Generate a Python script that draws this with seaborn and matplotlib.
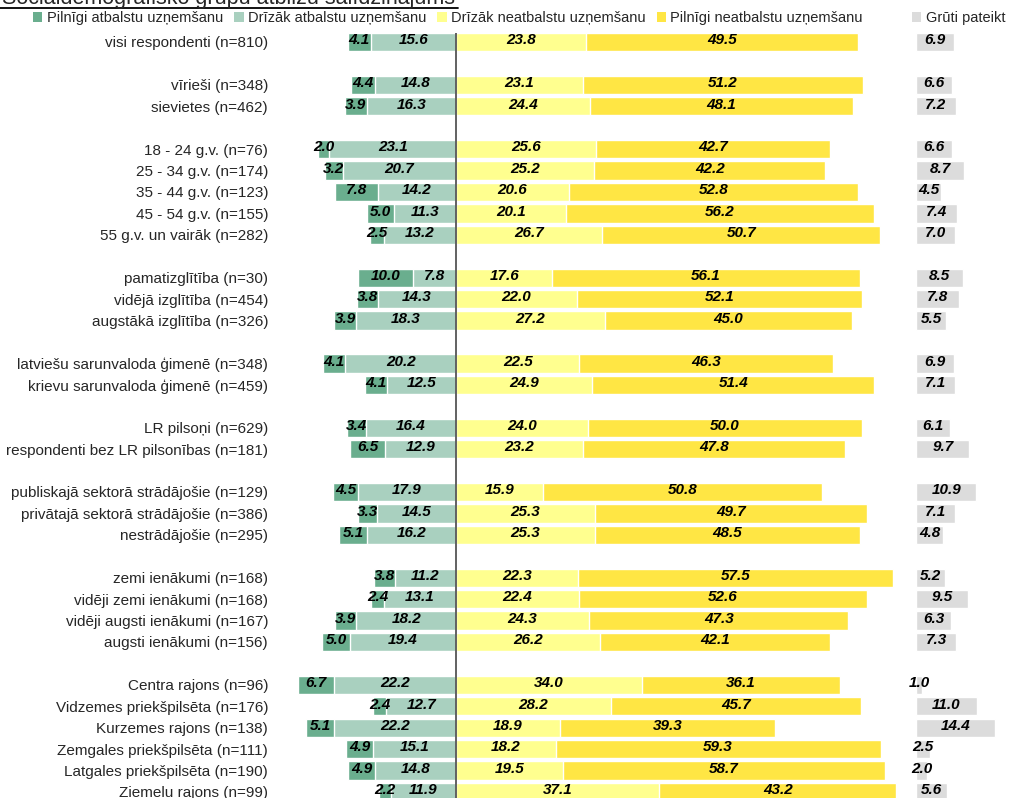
import numpy as np
import seaborn as sns
import matplotlib.pyplot as plt
from matplotlib.patches import Patch
from matplotlib.lines import Line2D

# answers per group, percent
groups = ['visi respondenti (n=810)',
          'vīrieši (n=348)', 'sievietes (n=462)',
          '18 - 24 g.v. (n=76)', '25 - 34 g.v. (n=174)', '35 - 44 g.v. (n=123)',
          '45 - 54 g.v. (n=155)', '55 g.v. un vairāk (n=282)',
          'pamatizglītība (n=30)', 'vidējā izglītība (n=454)', 'augstākā izglītība (n=326)',
          'latviešu sarunvaloda ģimenē (n=348)', 'krievu sarunvaloda ģimenē (n=459)',
          'LR pilsoņi (n=629)', 'respondenti bez LR pilsonības (n=181)',
          'publiskajā sektorā strādājošie (n=129)', 'privātajā sektorā strādājošie (n=386)',
          'nestrādājošie (n=295)',
          'zemi ienākumi (n=168)', 'vidēji zemi ienākumi (n=168)',
          'vidēji augsti ienākumi (n=167)', 'augsti ienākumi (n=156)',
          'Centra rajons (n=96)', 'Vidzemes priekšpilsēta (n=176)', 'Kurzemes rajons (n=138)',
          'Zemgales priekšpilsēta (n=111)', 'Latgales priekšpilsēta (n=190)', 'Ziemeļu rajons (n=99)']
block_sizes = [1, 2, 5, 3, 2, 2, 3, 4, 6]

full_support = [4.1, 4.4, 3.9, 2.0, 3.2, 7.8, 5.0, 2.5, 10.0, 3.8, 3.9, 4.1, 4.1, 3.4,
                6.5, 4.5, 3.3, 5.1, 3.8, 2.4, 3.9, 5.0, 6.7, 2.4, 5.1, 4.9, 4.9, 2.2]
rather_support = [15.6, 14.8, 16.3, 23.1, 20.7, 14.2, 11.3, 13.2, 7.8, 14.3, 18.3, 20.2, 12.5, 16.4,
                  12.9, 17.9, 14.5, 16.2, 11.2, 13.1, 18.2, 19.4, 22.2, 12.7, 22.2, 15.1, 14.8, 11.9]
rather_oppose = [23.8, 23.1, 24.4, 25.6, 25.2, 20.6, 20.1, 26.7, 17.6, 22.0, 27.2, 22.5, 24.9, 24.0,
                 23.2, 15.9, 25.3, 25.3, 22.3, 22.4, 24.3, 26.2, 34.0, 28.2, 18.9, 18.2, 19.5, 37.1]
full_oppose = [49.5, 51.2, 48.1, 42.7, 42.2, 52.8, 56.2, 50.7, 56.1, 52.1, 45.0, 46.3, 51.4, 50.0,
               47.8, 50.8, 49.7, 48.5, 57.5, 52.6, 47.3, 42.1, 36.1, 45.7, 39.3, 59.3, 58.7, 43.2]
hard_to_say = [6.9, 6.6, 7.2, 6.6, 8.7, 4.5, 7.4, 7.0, 8.5, 7.8, 5.5, 6.9, 7.1, 6.1,
               9.7, 10.9, 7.1, 4.8, 5.2, 9.5, 6.3, 7.3, 1.0, 11.0, 14.4, 2.5, 2.0, 5.6]

legend_names = ['Pilnīgi atbalstu uzņemšanu', 'Drīzāk atbalstu uzņemšanu',
                'Drīzāk neatbalstu uzņemšanu', 'Pilnīgi neatbalstu uzņemšanu', 'Grūti pateikt']
colors = ['#6aae8e', '#a9d0bf', '#ffff8f', '#ffe644', '#dcdcdc']
DK_OFFSET = 84  # where the "Grūti pateikt" column starts

sns.set_theme(style='white')
plt.rcParams['font.family'] = ['Liberation Sans', 'DejaVu Sans']

# row positions, one empty row between blocks
pos = []
row = 0
for size in block_sizes:
    pos.extend(range(row, row + size))
    row += size + 1
pos = np.array(pos)

fs = np.array(full_support)
rs = np.array(rather_support)
ro = np.array(rather_oppose)
fo = np.array(full_oppose)
dk = np.array(hard_to_say)

fig = plt.figure(figsize=(10.12, 7.98), dpi=100)
ax = fig.add_axes([275 / 1012, 0, 1 - 275 / 1012, 1])

bw = 0.85
kw = dict(orient='y', native_scale=True, width=bw, saturation=1, errorbar=None, ax=ax)
sns.barplot(x=-(fs + rs), y=pos, color=colors[0], **kw)
sns.barplot(x=-rs, y=pos, color=colors[1], **kw)
sns.barplot(x=ro + fo, y=pos, color=colors[3], **kw)
sns.barplot(x=ro, y=pos, color=colors[2], **kw)
ax.barh(pos, dk, left=DK_OFFSET, height=bw, color=colors[4])

tkw = dict(ha='center', va='center', fontsize=11, fontweight='bold', fontstyle='italic', color='black')
for i, y in enumerate(pos):
    ax.text(-(rs[i] + fs[i] / 2), y - 0.08, f'{fs[i]:.1f}', **tkw)
    ax.text(-rs[i] / 2, y - 0.08, f'{rs[i]:.1f}', **tkw)
    ax.text(ro[i] / 2, y - 0.08, f'{ro[i]:.1f}', **tkw)
    ax.text(ro[i] + fo[i] / 2, y - 0.08, f'{fo[i]:.1f}', **tkw)
    ax.text(DK_OFFSET + dk[i] / 2, y - 0.08, f'{dk[i]:.1f}', **tkw)

ax.vlines(0, -bw / 2, pos[-1] + 1, color='#555555', lw=1.3)

ax.set_xlim(-181 / 5.48, 556 / 5.48)
ax.set_ylim(35.28, -1.96)
ax.set_yticks(pos)
ax.set_yticklabels(groups, fontsize=11)
ax.set_xticks([])
ax.tick_params(axis='y', length=0, pad=5)
ax.set_xlabel('')
ax.set_ylabel('')
sns.despine(ax=ax, left=True, bottom=True)

# legend split in two like the original
handles = [Patch(facecolor=c, edgecolor='none') for c in colors]
lkw = dict(frameon=False, fontsize=10.5, handlelength=0.65, handleheight=0.65,
           handletextpad=0.3, borderpad=0, borderaxespad=0, loc='center left')
fig.legend(handles[:4], legend_names[:4], ncol=4, columnspacing=0.75,
           bbox_to_anchor=(33 / 1012, 1 - 18 / 798), **lkw)
fig.legend(handles[4:], legend_names[4:], bbox_to_anchor=(912 / 1012, 1 - 18 / 798), **lkw)

# title sits mostly above the crop, underlined
fig.text(0.002, 1 - 4 / 798, 'Sociāldemogrāfisko grupu atbilžu salīdzinājums',
         fontsize=15.5, va='baseline', ha='left')
fig.add_artist(Line2D([0, 458 / 1012], [1 - 7.5 / 798] * 2, color='black', lw=1.3))

fig.savefig('out.png', dpi=100)
